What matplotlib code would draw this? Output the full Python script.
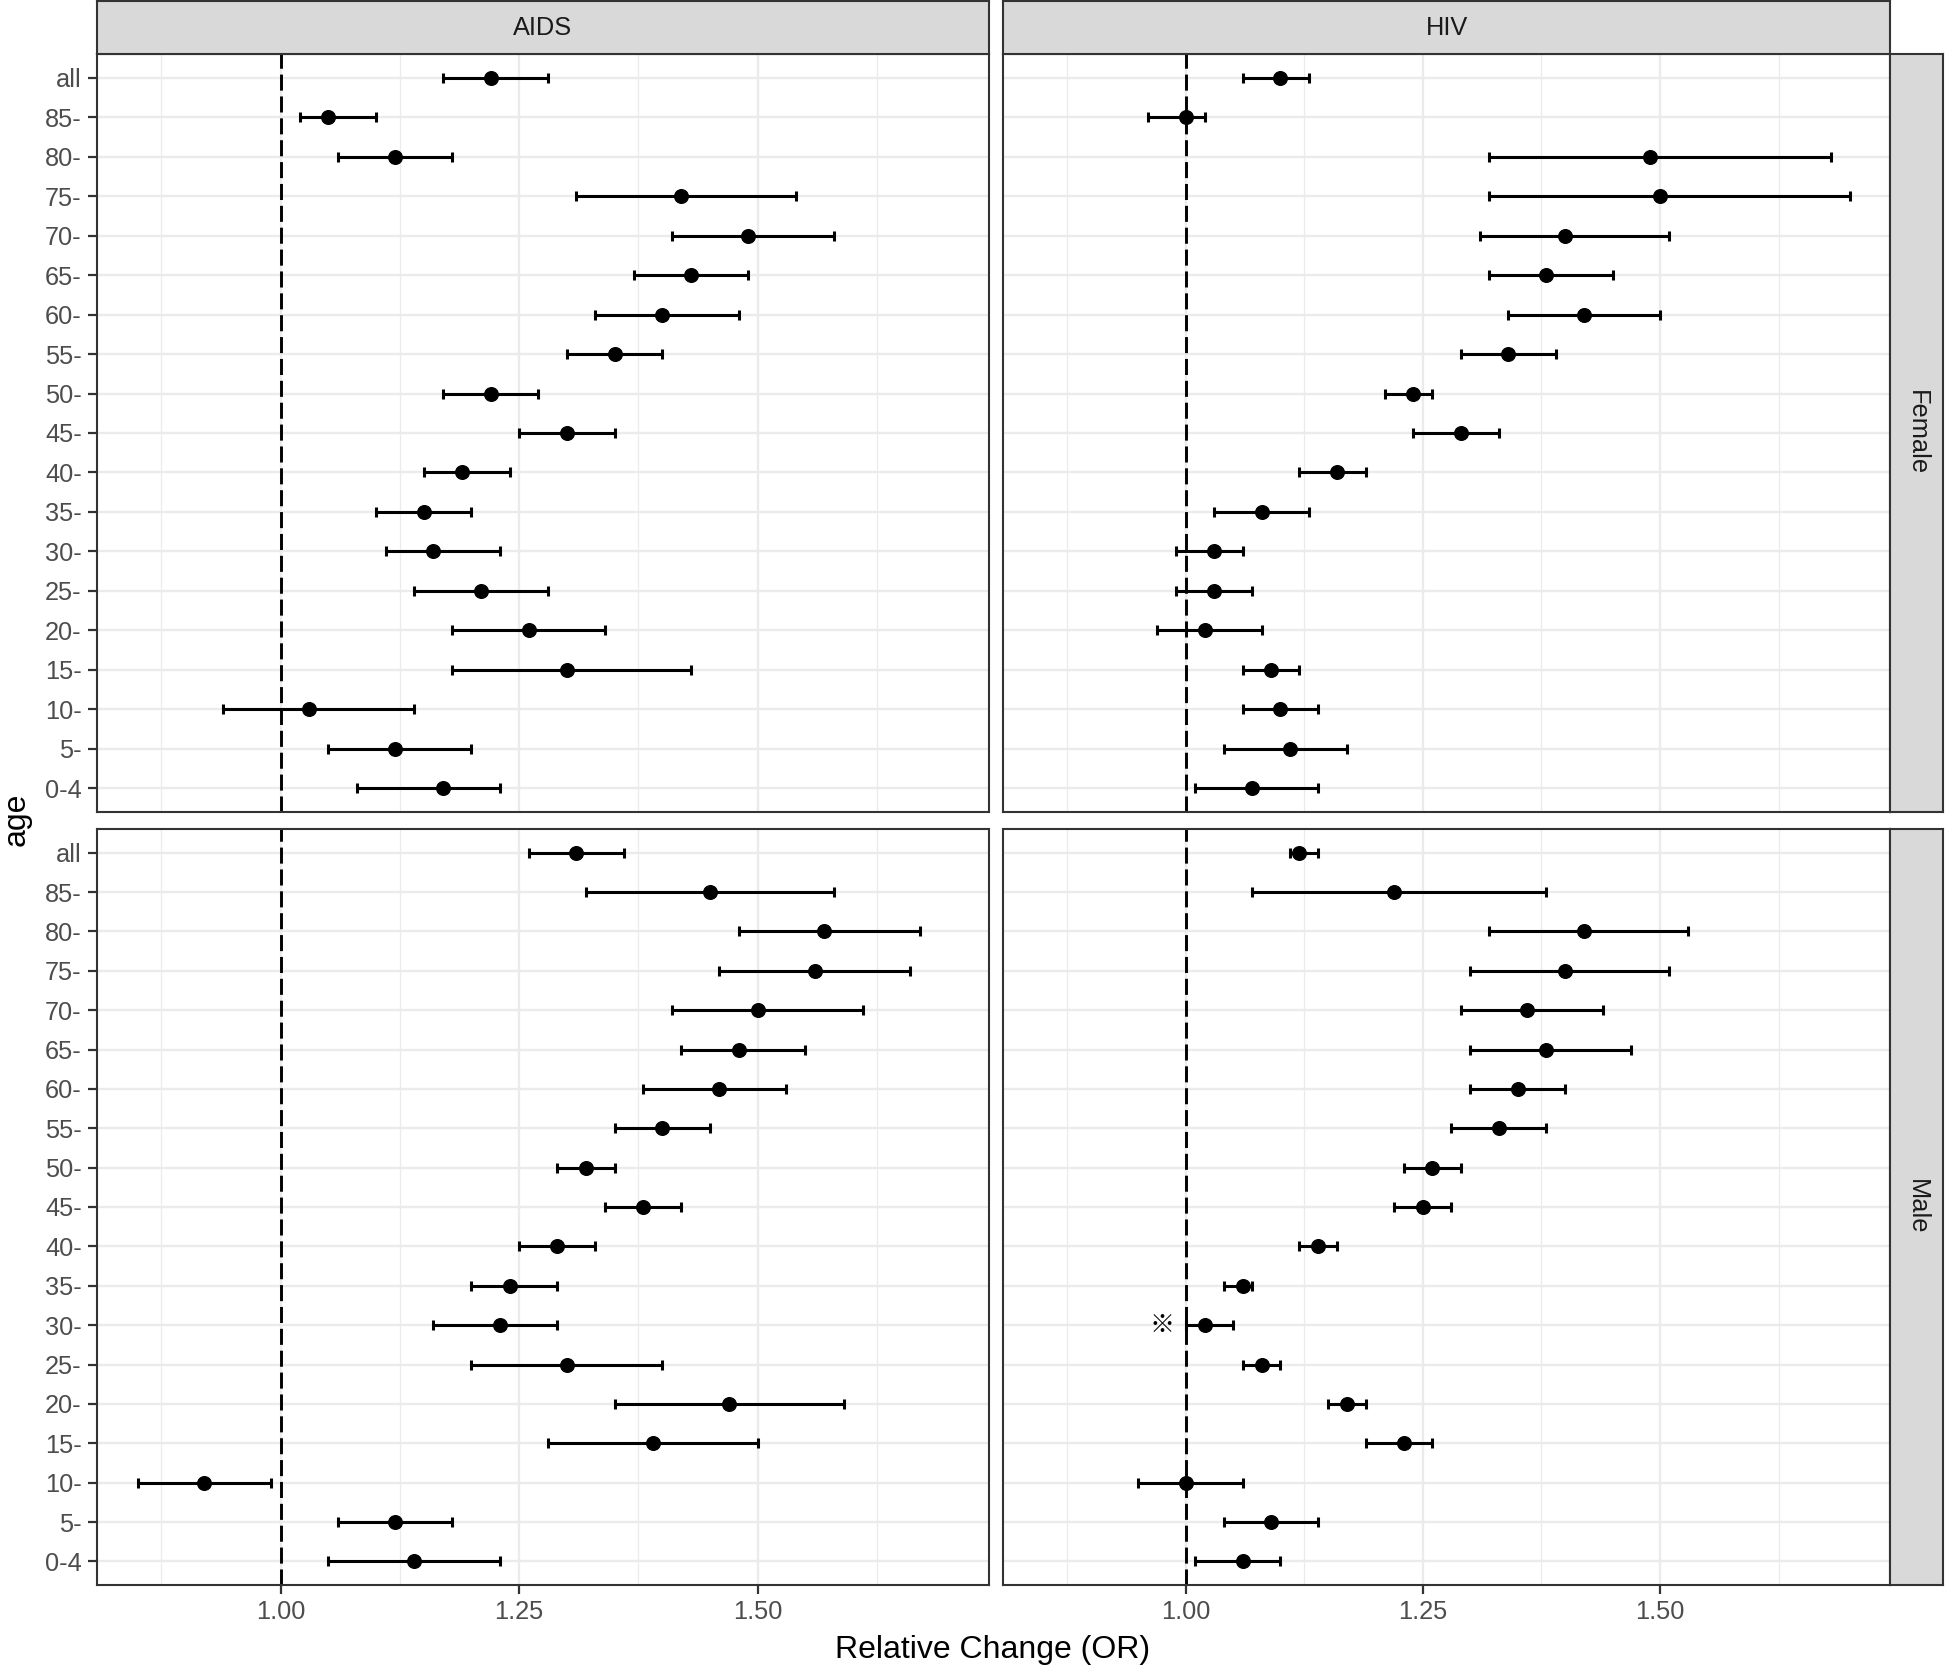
import matplotlib
matplotlib.use("Agg")
import matplotlib.pyplot as plt
import numpy as np

# ---------------- data ----------------
ages = ["all", "85-", "80-", "75-", "70-", "65-", "60-", "55-", "50-", "45-",
        "40-", "35-", "30-", "25-", "20-", "15-", "10-", "5-", "0-4"]
diseases = ["AIDS", "HIV"]
sexes = ["Female", "Male"]

aids_female_or = [1.22, 1.05, 1.12, 1.42, 1.49, 1.43, 1.40, 1.35, 1.22, 1.30, 1.19, 1.15, 1.16, 1.21, 1.26, 1.30, 1.03, 1.12, 1.17]
aids_female_lo = [1.17, 1.02, 1.06, 1.31, 1.41, 1.37, 1.33, 1.30, 1.17, 1.25, 1.15, 1.10, 1.11, 1.14, 1.18, 1.18, 0.94, 1.05, 1.08]
aids_female_hi = [1.28, 1.10, 1.18, 1.54, 1.58, 1.49, 1.48, 1.40, 1.27, 1.35, 1.24, 1.20, 1.23, 1.28, 1.34, 1.43, 1.14, 1.20, 1.23]

hiv_female_or = [1.10, 1.00, 1.49, 1.50, 1.40, 1.38, 1.42, 1.34, 1.24, 1.29, 1.16, 1.08, 1.03, 1.03, 1.02, 1.09, 1.10, 1.11, 1.07]
hiv_female_lo = [1.06, 0.96, 1.32, 1.32, 1.31, 1.32, 1.34, 1.29, 1.21, 1.24, 1.12, 1.03, 0.99, 0.99, 0.97, 1.06, 1.06, 1.04, 1.01]
hiv_female_hi = [1.13, 1.02, 1.68, 1.70, 1.51, 1.45, 1.50, 1.39, 1.26, 1.33, 1.19, 1.13, 1.06, 1.07, 1.08, 1.12, 1.14, 1.17, 1.14]

aids_male_or = [1.31, 1.45, 1.57, 1.56, 1.50, 1.48, 1.46, 1.40, 1.32, 1.38, 1.29, 1.24, 1.23, 1.30, 1.47, 1.39, 0.92, 1.12, 1.14]
aids_male_lo = [1.26, 1.32, 1.48, 1.46, 1.41, 1.42, 1.38, 1.35, 1.29, 1.34, 1.25, 1.20, 1.16, 1.20, 1.35, 1.28, 0.85, 1.06, 1.05]
aids_male_hi = [1.36, 1.58, 1.67, 1.66, 1.61, 1.55, 1.53, 1.45, 1.35, 1.42, 1.33, 1.29, 1.29, 1.40, 1.59, 1.50, 0.99, 1.18, 1.23]

hiv_male_or = [1.12, 1.22, 1.42, 1.40, 1.36, 1.38, 1.35, 1.33, 1.26, 1.25, 1.14, 1.06, 1.02, 1.08, 1.17, 1.23, 1.00, 1.09, 1.06]
hiv_male_lo = [1.11, 1.07, 1.32, 1.30, 1.29, 1.30, 1.30, 1.28, 1.23, 1.22, 1.12, 1.04, 1.00, 1.06, 1.15, 1.19, 0.95, 1.04, 1.01]
hiv_male_hi = [1.14, 1.38, 1.53, 1.51, 1.44, 1.47, 1.40, 1.38, 1.29, 1.28, 1.16, 1.07, 1.05, 1.10, 1.19, 1.26, 1.06, 1.14, 1.10]

x_ticks = [1.00, 1.25, 1.50]
x_tick_labels = ["1.00", "1.25", "1.50"]
x_minor = [0.875, 1.125, 1.375, 1.625]
ref_line = 1.0
note_symbol = "※"
note_panel = ("HIV", "Male")
note_age = "30-"
note_x = 0.975

panel_data = {
    ("AIDS", "Female"): (aids_female_or, aids_female_lo, aids_female_hi),
    ("HIV", "Female"): (hiv_female_or, hiv_female_lo, hiv_female_hi),
    ("AIDS", "Male"): (aids_male_or, aids_male_lo, aids_male_hi),
    ("HIV", "Male"): (hiv_male_or, hiv_male_lo, hiv_male_hi),
}

# ---------------- layout ----------------
W, H = 1946, 1669
fig = plt.figure(figsize=(W / 100, H / 100), dpi=100)
fig.patch.set_facecolor("white")

def rect(x0, y0, x1, y1):
    return [x0 / W, 1 - y1 / H, (x1 - x0) / W, (y1 - y0) / H]

col_x = [(97, 989), (1003, 1890)]
row_y = [(54, 812), (829, 1585)]
strip_top = (1, 54)
strip_right = (1890, 1943)

FONT = "Liberation Sans"
plt.rcParams["font.family"] = [FONT, "DejaVu Sans"]

all_lo = min(min(v[1]) for v in panel_data.values())
all_hi = max(max(v[2]) for v in panel_data.values())
pad = 0.05 * (all_hi - all_lo)
xlim = (all_lo - pad, all_hi + pad)

n = len(ages)
ypos = np.arange(n)

grid_col = "#EBEBEB"
border_col = "#333333"
text_col = "#4D4D4D"
small_fs = 18.3
title_fs = 23.0

for ri, sex in enumerate(sexes):
    for ci, dis in enumerate(diseases):
        x0, x1 = col_x[ci]
        y0, y1 = row_y[ri]
        ax = fig.add_axes(rect(x0, y0, x1, y1))
        orv, lo, hi = (np.array(a) for a in panel_data[(dis, sex)])
        ax.set_xlim(*xlim)
        ax.set_ylim(n - 1 + 0.6, -0.6)
        # grid
        for xm in x_minor:
            ax.axvline(xm, color=grid_col, lw=0.9, zorder=0)
        for xt in x_ticks:
            ax.axvline(xt, color=grid_col, lw=1.7, zorder=0)
        for yy in ypos:
            ax.axhline(yy, color=grid_col, lw=1.7, zorder=0)
        ax.axvline(ref_line, color="black", lw=2.1, linestyle=(0, (5.5, 2.0)), zorder=1)
        ax.errorbar(orv, ypos, xerr=[orv - lo, hi - orv], fmt="o", color="black",
                    ms=9.8, capsize=3.5, elinewidth=2.2, capthick=2.2, zorder=3)
        if (dis, sex) == note_panel:
            ax.text(note_x, ages.index(note_age), note_symbol,
                    family=["Noto Sans CJK JP", "DejaVu Sans"], fontsize=18,
                    ha="center", va="center", color="black", zorder=4)
        for s in ax.spines.values():
            s.set_color(border_col)
            s.set_linewidth(1.5)
        ax.set_xticks(x_ticks)
        ax.set_yticks(ypos)
        ax.tick_params(axis="both", length=6.5, width=1.6, color=border_col,
                       labelsize=small_fs, labelcolor=text_col, pad=4.5)
        if ci == 0:
            ax.set_yticklabels(ages)
        else:
            ax.set_yticklabels([])
            ax.tick_params(axis="y", length=0)
        if ri == 1:
            ax.set_xticklabels(x_tick_labels)
        else:
            ax.set_xticklabels([])
            ax.tick_params(axis="x", length=0)
        ax.set_facecolor("white")

# strips
def strip(x0, y0, x1, y1, label, rot):
    sa = fig.add_axes(rect(x0, y0, x1, y1))
    sa.set_facecolor("#D9D9D9")
    sa.set_xticks([]); sa.set_yticks([])
    for s in sa.spines.values():
        s.set_color(border_col)
        s.set_linewidth(1.5)
    sa.text(0.5, 0.5, label, transform=sa.transAxes, ha="center", va="center",
            rotation=rot, fontsize=small_fs, color="#1A1A1A")

for ci, dis in enumerate(diseases):
    strip(col_x[ci][0], strip_top[0], col_x[ci][1], strip_top[1], dis, 0)
for ri, sex in enumerate(sexes):
    strip(strip_right[0], row_y[ri][0], strip_right[1], row_y[ri][1], sex, -90)

fig.text(2 / W, 1 - 819 / H, "age", rotation=90, ha="left", va="center", fontsize=title_fs, color="black")
fig.text(993 / W, 1 - 1650 / H, "Relative Change (OR)", ha="center", va="center", fontsize=title_fs, color="black")

fig.savefig("out.png", dpi=100, facecolor="white")
